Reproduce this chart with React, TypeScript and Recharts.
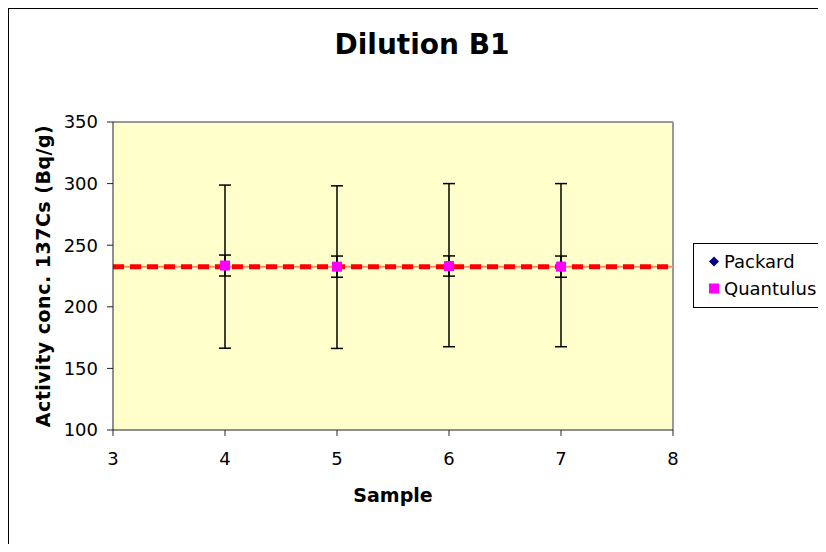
import React from "react"
import {
  ComposedChart, Scatter, ErrorBar, XAxis, YAxis, CartesianGrid,
  ReferenceLine, Legend,
} from "recharts"

// ─── Data ─────────────────────────────────────────────────────────────────────

const samples = [4, 5, 6, 7]
const packardValues = [232.6, 232.2, 233.8, 233.8]
const packardErrors = [66.2, 66.0, 66.2, 66.2]
const quantulusValues = [233.5, 232.6, 233.1, 232.6]
const quantulusErrors = [8.5, 8.6, 8.2, 8.6]
const referenceValue = 232.5

const xTicks = [3, 4, 5, 6, 7, 8]
const yTicks = [100, 150, 200, 250, 300, 350]

const packardData = samples.map((x, i) => ({ x, y: packardValues[i], err: packardErrors[i] }))
const quantulusData = samples.map((x, i) => ({ x, y: quantulusValues[i], err: quantulusErrors[i] }))

const FONT = "'DejaVu Sans', Verdana, sans-serif"

// ─── Marker shapes ────────────────────────────────────────────────────────────

function Diamond({ cx, cy }: { cx?: number; cy?: number }) {
  if (cx == null || cy == null) return null
  const r = 5
  return <polygon points={`${cx},${cy - r} ${cx + r},${cy} ${cx},${cy + r} ${cx - r},${cy}`} fill="#000080" />
}

function Square({ cx, cy }: { cx?: number; cy?: number }) {
  if (cx == null || cy == null) return null
  return <rect x={cx - 5} y={cy - 5} width={10} height={10} fill="#FF00FF" />
}

// ─── Legend ───────────────────────────────────────────────────────────────────

function LegendBox({ payload }: { payload?: Array<{ value: string; color: string }> }) {
  if (!payload?.length) return null
  return (
    <div style={{
      border: "1px solid #000", borderRight: "none", background: "#fff", width: 140,
      padding: "4px 0 5px 0", fontFamily: FONT, fontSize: 18, whiteSpace: "nowrap",
    }}>
      {payload.map((p, i) => (
        <div key={i} style={{ display: "flex", alignItems: "center", height: 27 }}>
          <svg width={30} height={27} style={{ flexShrink: 0 }}>
            {p.value === "Packard"
              ? <polygon points="20,8.5 25,13.5 20,18.5 15,13.5" fill="#000080" />
              : <rect x={15} y={8.5} width={10} height={10} fill="#FF00FF" />}
          </svg>
          <span style={{ color: "#000" }}>{p.value}</span>
        </div>
      ))}
    </div>
  )
}

// ─── Chart ────────────────────────────────────────────────────────────────────

export default function App() {
  return (
    <div style={{
      position: "relative", width: 818, height: 536, boxSizing: "border-box",
      borderTop: "1px solid #000", borderLeft: "1px solid #000",
      background: "#fff",
    }}>
      <div style={{
        position: "absolute", left: 213, top: 22, width: 400, textAlign: "center",
        fontFamily: FONT, fontWeight: "bold", fontSize: 28, lineHeight: "28px", color: "#000",
      }}>
        Dilution B1
      </div>
      <ComposedChart
        width={817}
        height={535}
        margin={{ top: 113, right: 153, bottom: 34, left: 0 }}
      >
        <CartesianGrid fill="#FFFFCC" horizontal={false} vertical={false} />
        <XAxis
          type="number"
          dataKey="x"
          domain={[3, 8]}
          ticks={xTicks}
          height={80}
          tickSize={6}
          tickMargin={16}
          stroke="#222"
          tick={{ fill: "#000", fontSize: 18, fontFamily: FONT }}
          label={{
            content: (props: any) => {
              const vb = props.viewBox
              return (
                <text x={vb.x + vb.width / 2} y={vb.y + 72} textAnchor="middle"
                  fontFamily={FONT} fontWeight="bold" fontSize={19} fill="#000">
                  Sample
                </text>
              )
            },
          }}
        />
        <YAxis
          type="number"
          dataKey="y"
          domain={[100, 350]}
          ticks={yTicks}
          width={104}
          tickSize={6}
          tickMargin={9}
          stroke="#222"
          tick={{ fill: "#000", fontSize: 18, fontFamily: FONT }}
          label={{
            content: (props: any) => {
              const vb = props.viewBox
              const cx = vb.x + 34
              const cy = vb.y + vb.height / 2
              return (
                <text x={cx} y={cy} transform={`rotate(-90 ${cx} ${cy})`} textAnchor="middle"
                  dominantBaseline="central" fontFamily={FONT} fontWeight="bold" fontSize={19}
                  letterSpacing={0.5} fill="#000">
                  Activity conc. 137Cs (Bq/g)
                </text>
              )
            },
          }}
        />
        <ReferenceLine y={350} stroke="#999" strokeWidth={2} />
        <ReferenceLine x={8} stroke="#999" strokeWidth={2} />
        <ReferenceLine y={referenceValue} stroke="#FF8C66" strokeWidth={2} />
        <ReferenceLine y={referenceValue} stroke="#FF0000" strokeWidth={5} strokeDasharray="11 6" />
        <Legend
          layout="vertical"
          align="center"
          verticalAlign="middle"
          wrapperStyle={{ left: 684, top: 234, width: 140 }}
          content={<LegendBox />}
        />
        <Scatter name="Packard" data={packardData} fill="#000080" shape={<Diamond />} isAnimationActive={false}>
          <ErrorBar dataKey="err" direction="y" width={6} stroke="#000" strokeWidth={1.5} />
        </Scatter>
        <Scatter name="Quantulus" data={quantulusData} fill="#FF00FF" shape={<Square />} isAnimationActive={false}>
          <ErrorBar dataKey="err" direction="y" width={6} stroke="#000" strokeWidth={1.5} />
        </Scatter>
      </ComposedChart>
    </div>
  )
}
